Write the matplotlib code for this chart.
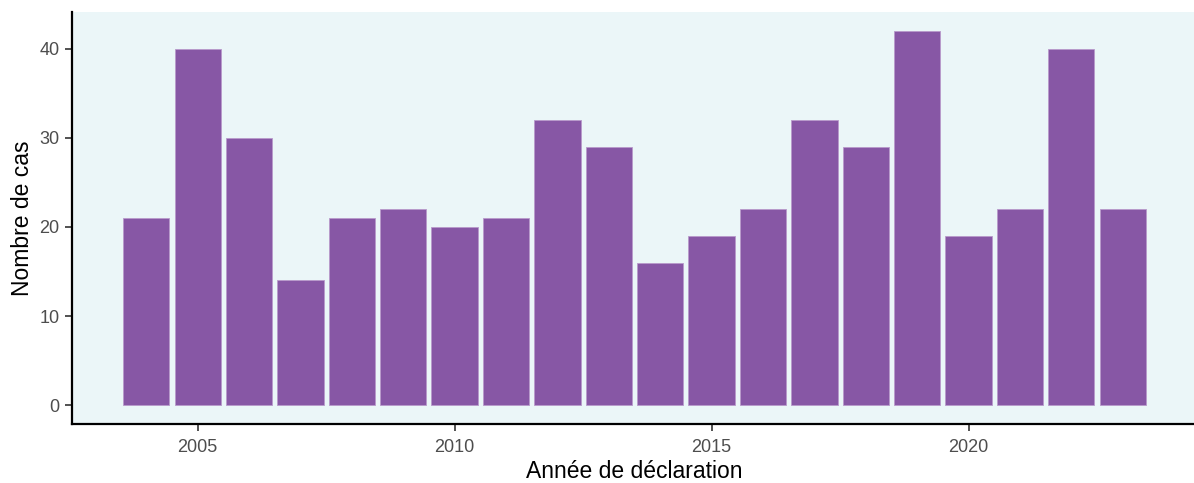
import numpy as np
import matplotlib.pyplot as plt

years = list(range(2004, 2024))
cases = [21, 40, 30, 14, 21, 22, 20, 21, 32, 29, 16, 19, 22, 32, 29, 42, 19, 22, 40, 22]
xticks = [2005, 2010, 2015, 2020]
yticks = [0, 10, 20, 30, 40]

plt.rcParams['font.family'] = ['Liberation Sans', 'DejaVu Sans']

W, H = 1194, 483
fig = plt.figure(figsize=(W / 100, H / 100), dpi=100)
ax = fig.add_axes([72 / W, (H - 424) / H, (1197 - 72) / W, (424 - 12) / H])
ax.set_facecolor('#EBF6F8')

ax.bar(years, cases, width=0.9, color='#8757A5', edgecolor='#B89ACB', linewidth=0.6)

ax.set_xlim(2003.55 - 0.995, 2023.45 + 0.995)
ax.set_ylim(-2.1, 44.1)
ax.set_xticks(xticks)
ax.set_yticks(yticks)

for s in ['top', 'right']:
    ax.spines[s].set_visible(False)
for s in ['left', 'bottom']:
    ax.spines[s].set_linewidth(1.6)
    ax.spines[s].set_color('black')

ax.tick_params(axis='both', length=5, width=1.2, color='#333333',
               labelsize=13, labelcolor='#4D4D4D', pad=4)
ax.tick_params(axis='x', pad=6)

ax.set_xlabel('Année de déclaration', fontsize=16.5, color='black', labelpad=3)
ax.set_ylabel('Nombre de cas', fontsize=16.5, color='black', labelpad=4)

fig.savefig('out.png', dpi=100)
